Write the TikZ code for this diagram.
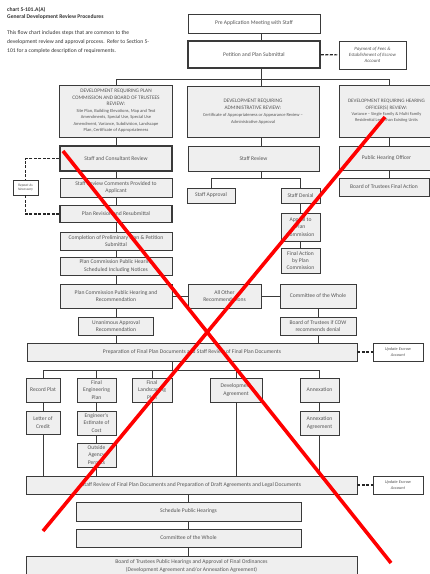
\documentclass[tikz,border=0pt]{standalone}
\usepackage{fontspec}
\setmainfont{Carlito}
\usetikzlibrary{calc}
\definecolor{bordc}{HTML}{3A3A3A}
\definecolor{boxf}{HTML}{EFEFEF}
\definecolor{txtc}{HTML}{555555}
\begin{document}
\begin{tikzpicture}[x=1pt,y=-1pt,
  box/.style={draw=bordc, fill=boxf, line width=0.8pt, inner sep=1pt, align=center, text=txtc, font=\fontsize{5.6}{7.3}\selectfont},
  wbox/.style={box, fill=white},
  thickbox/.style={box, line width=1.5pt},
  wh/.style 2 args={minimum width=#1pt, minimum height=#2pt},
  conn/.style={draw=bordc, line width=0.8pt},
  dsh/.style={draw=black!85, line width=1.2pt, dash pattern=on 3pt off 1.5pt},
  note/.style={box, fill=white, font=\fontsize{4.8}{6}\selectfont\itshape},
  txt/.style={inner sep=0pt, align=left, text=black!80, font=\fontsize{5.6}{9}\selectfont}
]
\useasboundingbox (0,0) rectangle (430,574);
\clip (0,0) rectangle (430,574);
\fill[white] (0,0) rectangle (430,574);

% title and description
\node[txt, anchor=north west, font=\fontsize{5.6}{7}\selectfont\bfseries] (title) at (7,7) {chart 5-101.A(A)\\General Development Review Procedures};
\node[txt, anchor=north west] (desc) at (7,30) {This flow chart includes steps that are common to the\\development review and approval process.\ \ Refer to Section 5-\\101 for a complete description of requirements.};

% top
\node[wbox, wh={132}{19}] (pre) at (254,23.5) {Pre Application Meeting with Staff};
\node[thickbox, fill=white, wh={132}{27}] (pet) at (254,54.5) {Petition and Plan Submittal};
\node[note, wh={67}{28}] (pay) at (372.5,55) {Payment of Fees \&\\Establishment of Escrow\\Account};

% categories
\node[box, wh={113}{52}, font=\fontsize{4.5}{6.5}\selectfont] (lcat) at (116,111) {{\fontsize{5.3}{7.5}\selectfont DEVELOPMENT REQUIRING PLAN}\\{\fontsize{5.3}{7.5}\selectfont COMMISSION AND BOARD OF TRUSTEES}\\{\fontsize{5.3}{7.5}\selectfont REVIEW:}\\Site Plan, Building Elevations, Map and Text\\Amendments, Special Use, Special Use\\Amendment, Variance, Subdivision, Landscape\\Plan, Certificate of Appropriateness};
\node[box, wh={132}{51}, font=\fontsize{4.5}{7}\selectfont] (mcat) at (253,111.5) {{\fontsize{5.3}{7.5}\selectfont DEVELOPMENT REQUIRING}\\{\fontsize{5.3}{7.5}\selectfont ADMINISTRATIVE REVIEW:}\\Certificate of Appropriateness or Appearance Review –\\Administrative Approval};
\node[box, wh={95}{52}, font=\fontsize{4.4}{6.2}\selectfont] (rcat) at (386.5,111) {{\fontsize{5.1}{7.5}\selectfont DEVELOPMENT REQUIRING HEARING}\\{\fontsize{5.1}{7.5}\selectfont OFFICER(S) REVIEW:}\\Variance – Single Family \& Multi Family\\Residential Less Than Existing Units};

% left column
\node[thickbox, wh={112}{25}] (scc) at (116,158.5) {Staff and Consultant Review};
\node[box, wh={112}{19}] (scr) at (116,187.5) {Staff Review Comments Provided to\\Applicant};
\node[thickbox, wh={112}{17}] (rev) at (116,214) {Plan Revision and Resubmittal};
\node[box, wh={112}{18}] (cmp) at (116,241) {Completion of Preliminary Plan \& Petition\\Submittal};
\node[box, wh={112}{18}] (sch) at (116,266) {Plan Commission Public Hearing\\Scheduled Including Notices};
\node[box, wh={112}{24}] (pcph) at (116,296) {Plan Commission Public Hearing and\\Recommendation};
\node[box, wh={75}{18}] (una) at (116,326) {Unanimous Approval\\Recommendation};
\node[note, wh={25}{15}, font=\fontsize{3.6}{4.6}\selectfont\itshape] (rpt) at (25.5,187.5) {Repeat As\\Necessary};

% middle column
\node[box, wh={131}{25}] (stf) at (253.5,158.5) {Staff Review};
\node[box, wh={48}{15}] (sapp) at (211,195.5) {Staff Approval};
\node[box, wh={39}{15}] (sden) at (300.5,195.5) {Staff Denial};
\node[box, wh={39}{28}] (apl) at (300.5,227) {Appeal to\\Plan\\Commission};
\node[box, wh={39}{25}] (fin) at (300.5,260.5) {Final Action\\by Plan\\Commission};
\node[box, wh={73}{24}] (aor) at (224.5,296) {All Other\\Recommendations};
\node[box, wh={76}{24}] (cow1) at (318,296) {Committee of the Whole};
\node[box, wh={76}{18}] (botc) at (318,326) {Board of Trustees if COW\\recommends denial};

% right column
\node[box, wh={95}{24}] (pho) at (386.5,158.5) {Public Hearing Officer};
\node[box, wh={90}{18}] (btf) at (384,187) {Board of Trustees Final Action};

% final documents
\node[box, wh={330}{18}] (prep) at (192,352) {Preparation of Final Plan Documents and Staff Review of Final Plan Documents};
\node[note, wh={50}{18}, font=\fontsize{4.3}{5.5}\selectfont\itshape] (upd1) at (398,352) {Update Escrow\\Account};
\node[box, wh={34}{24}] (rp) at (43,390) {Record Plat};
\node[box, wh={39}{24}] (fep) at (96.5,390) {Final\\Engineering\\Plan};
\node[box, wh={40}{24}] (flp) at (152,390) {Final\\Landscaping\\Plan};
\node[box, wh={52}{24}] (dag) at (236,390) {Development\\Agreement};
\node[box, wh={39}{24}] (ann) at (319.5,390) {Annexation};
\node[box, wh={34}{23}] (loc) at (43,422.5) {Letter of\\Credit};
\node[box, wh={39}{24}] (eec) at (96.5,423) {Engineer's\\Estimate of\\Cost};
\node[box, wh={39}{24}] (oap) at (96.5,455) {Outside\\Agency\\Permits};
\node[box, wh={39}{24}] (aag) at (319.5,423) {Annexation\\Agreement};

% bottom
\node[box, wh={331}{18}] (sfr) at (191.5,485) {Staff Review of Final Plan Documents and Preparation of Draft Agreements and Legal Documents};
\node[note, wh={50}{18}, font=\fontsize{4.3}{5.5}\selectfont\itshape] (upd2) at (398,485) {Update Escrow\\Account};
\node[box, wh={225}{19}] (sph) at (188.5,511.5) {Schedule Public Hearings};
\node[box, wh={225}{18}] (cow2) at (188.5,538) {Committee of the Whole};
\node[box, wh={331}{20}] (bot) at (191.5,566) {Board of Trustees Public Hearings and Approval of Final Ordinances\\(Development Agreement and/or Annexation Agreement)};

% junction coordinates
\coordinate (j1) at (261,79);
\coordinate (j2) at (261,178);
\coordinate (j3) at (172,370);
\coordinate (j4) at (389,79);

% connectors top
\draw[conn] (pre.south -| j1) -- (pet.north -| j1);
\draw[conn] (pet.south -| j1) -- (j1);
\draw[conn] (lcat.north) -- (lcat.north |- j1) -- (j4) -- (rcat.north -| j4);
\draw[conn] (j1) -- (mcat.north -| j1);
\draw[dsh] (pet) -- (pay);

% left chain
\draw[conn] (lcat) -- (scc);
\draw[conn] (scc) -- (scr);
\draw[conn] (scr) -- (rev);
\draw[conn] (rev) -- (cmp);
\draw[conn] (cmp) -- (sch);
\draw[conn] (sch) -- (pcph);
\draw[conn] (pcph) -- (una);
\draw[conn] (una.south) -- (una.south |- prep.north);
\draw[conn] (pcph) -- (aor);
\draw[conn] (aor) -- (cow1);
\draw[conn] (cow1) -- (botc);
\draw[conn] (botc.south) -- (botc.south |- prep.north);
\draw[dsh] (scc.west) -- (scc.west -| rpt.north) -- (rpt.north);
\draw[dsh] (rpt.south) -- (rpt.south |- rev.west) -- (rev.west);

% middle
\draw[conn] (mcat.south -| j1) -- (stf.north -| j1);
\draw[conn] (stf.south -| j1) -- (j2);
\draw[conn] (sapp.north) -- (sapp.north |- j2) -- (sden.north |- j2) -- (sden.north);
\draw[conn] (sden) -- (apl);
\draw[conn] (apl) -- (fin);

% right
\draw[conn] (rcat.south -| j4) -- (pho.north -| j4);
\draw[conn] (pho.south -| j4) -- (btf.north -| j4);

% final documents
\draw[dsh] (prep) -- (upd1);
\draw[conn] (prep.south -| j3) -- (j3);
\draw[conn] (rp.north |- j3) -- (ann.north |- j3);
\foreach \n in {rp,fep,flp,dag,ann} \draw[conn] (\n.north |- j3) -- (\n.north);
\draw[conn] (rp) -- (loc);
\draw[conn] (fep) -- (eec);
\draw[conn] (eec) -- (oap);
\draw[conn] (ann) -- (aag);
\foreach \n in {loc,oap,flp,dag,aag} \draw[conn] (\n.south) -- (\n.south |- sfr.north);

% bottom
\draw[dsh] (sfr) -- (upd2);
\draw[conn] (sph.north |- sfr.south) -- (sph.north);
\draw[conn] (sph) -- (cow2);
\draw[conn] (cow2.south) -- (cow2.south |- bot.north);

% red cross
\draw[red, line width=3.6pt] (63,151) -- (391,563);
\draw[red, line width=3.6pt] (385,117) -- (43,531);
\end{tikzpicture}
\end{document}
